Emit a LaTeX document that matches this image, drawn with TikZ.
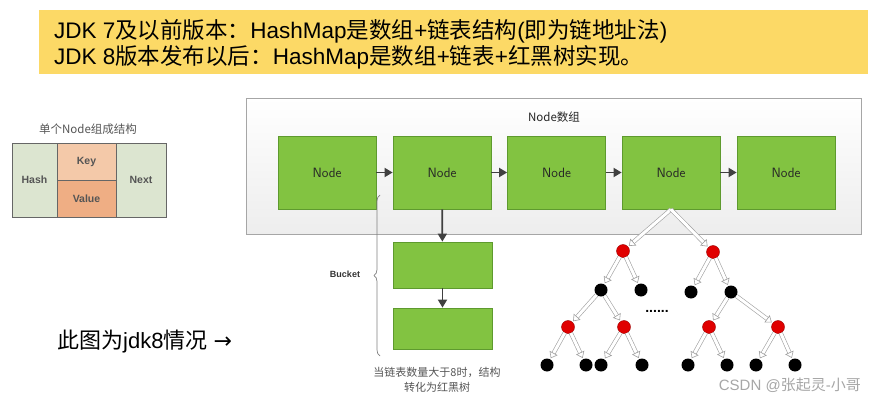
\documentclass[tikz,border=0pt]{standalone}
\usepackage{fontspec}
\setmainfont{Liberation Sans}
\newfontfamily\cjk{Noto Sans CJK SC}
\newfontfamily\symf{DejaVu Sans}
\usetikzlibrary{arrows.meta,decorations.pathreplacing}
\definecolor{bannerY}{HTML}{FCD966}
\definecolor{nodeG}{HTML}{82C341}
\definecolor{nodeGb}{HTML}{5E9A2E}
\definecolor{cellG}{HTML}{DCE5D0}
\definecolor{cellK}{HTML}{F4C9A9}
\definecolor{cellV}{HTML}{EFAE84}
\definecolor{txtG}{HTML}{555555}
\definecolor{redN}{HTML}{E00000}
\tikzset{
  gnode/.style={draw=nodeGb, fill=nodeG, line width=0.8pt, minimum width=98pt, minimum height=73pt, inner sep=0pt, font=\fontsize{13.5}{14}\selectfont\sffamily, text=black!85},
  bnode/.style={draw=nodeGb, fill=nodeG, line width=0.8pt, minimum width=99pt, inner sep=0pt},
  darr/.style={draw=black!75, line width=1.8pt, -{Triangle[length=8pt,width=9pt]}},
  rnode/.style={circle, fill=redN, draw=red!60!black, line width=0.4pt, minimum size=13pt, inner sep=0pt},
  knode/.style={circle, fill=black, minimum size=13pt, inner sep=0pt},
  tarr/.style={draw=gray!75, line width=0.6pt, double=white, double distance=3pt, -{Triangle[open,length=6pt,width=9pt]}, shorten >=1pt},
  cell/.style={draw=gray!80!black, line width=0.8pt, inner sep=0pt, font=\fontsize{10.5}{12}\selectfont\bfseries, text=txtG},
}
\begin{document}
\begin{tikzpicture}[x=1pt,y=-1pt]
\useasboundingbox (0,0) rectangle (876,404);
% banner
\fill[bannerY] (39,10) rectangle (868,74);
\node[anchor=west, inner sep=0pt, font=\fontsize{22.5}{24}\selectfont] (l1) at (54,31)
  {JDK 7{\cjk 及以前版本：}HashMap{\cjk 是数组}+{\cjk 链表结构}({\cjk 即为链地址法})};
\node[anchor=west, inner sep=0pt, font=\fontsize{22.5}{24}\selectfont] (l2) at (54,57)
  {JDK 8{\cjk 版本发布以后：}HashMap{\cjk 是数组}+{\cjk 链表}+{\cjk 红黑树实现。}};
% single node structure
\node[font=\fontsize{11.5}{12}\selectfont\cjk, text=txtG] (st) at (88,129) {单个Node组成结构};
\node[cell, fill=cellG, minimum width=45pt, minimum height=74pt] (hash) at (34.5,180) {Hash};
\node[cell, fill=cellK, minimum width=59pt, minimum height=37pt] (key) at (86.5,161.5) {Key};
\node[cell, fill=cellV, minimum width=59pt, minimum height=37pt] (val) at (86.5,198.5) {Value};
\node[cell, fill=cellG, minimum width=50pt, minimum height=74pt] (next) at (141,180) {Next};
% main box
\node[draw=gray!70, line width=0.8pt, top color=white, bottom color=gray!14, minimum width=615pt, minimum height=136pt, inner sep=0pt] (box) at (553.5,166) {};
\node[font=\fontsize{11.5}{12}\selectfont\cjk, text=black!85] (title) at (554,117) {Node数组};
\node[gnode] (n1) at (327,172.5) {Node};
\node[gnode] (n2) at (442,172.5) {Node};
\node[gnode] (n3) at (556.5,172.5) {Node};
\node[gnode] (n4) at (671,172.5) {Node};
\node[gnode] (n5) at (786,172.5) {Node};
\draw[darr] (n1) -- (n2);
\draw[darr] (n2) -- (n3);
\draw[darr] (n3) -- (n4);
\draw[darr] (n4) -- (n5);
% bucket
\node[bnode, minimum height=46pt] (k1) at (442.5,265) {};
\node[bnode, minimum height=41pt] (k2) at (442.5,328.5) {};
\draw[darr] (n2) -- (k1);
\draw[darr] (k1) -- (k2);
\coordinate (bb) at (380,356);
\coordinate (bt) at (380,195);
\draw[gray, line width=0.7pt, decorate, decoration={brace, amplitude=6pt}] (bb) -- (bt);
\node[font=\fontsize{9}{10}\selectfont\bfseries, text=black!80] (bk) at (345,274) {Bucket};
\node[font=\fontsize{11}{15}\selectfont\cjk, text=txtG, align=center] (cap) at (437,380) {当链表数量大于8时，结构\\转化为红黑树};
% tree
\node[rnode] (r1) at (623,251) {};
\node[rnode] (r2) at (713,252) {};
\node[knode] (b1) at (601,290) {};
\node[knode] (b2) at (641,290) {};
\node[knode] (b3) at (691,292) {};
\node[knode] (b4) at (731,292) {};
\node[rnode] (r3) at (568,327) {};
\node[rnode] (r4) at (624,327) {};
\node[rnode] (r5) at (709,327) {};
\node[rnode] (r6) at (778,327) {};
\foreach \n/\x in {e1/547,e2/586,e3/601,e4/642,e5/688,e6/727,e7/756,e8/795}
  \node[knode] (\n) at (\x,365) {};
\draw[tarr] (n4.south) -- (r1);
\draw[tarr] (n4.south) -- (r2);
\draw[tarr] (r1) -- (b1); \draw[tarr] (r1) -- (b2);
\draw[tarr] (r2) -- (b3); \draw[tarr] (r2) -- (b4);
\draw[tarr] (b1) -- (r3); \draw[tarr] (b1) -- (r4);
\draw[tarr] (b4) -- (r5); \draw[tarr] (b4) -- (r6);
\draw[tarr] (r3) -- (e1); \draw[tarr] (r3) -- (e2);
\draw[tarr] (r4) -- (e3); \draw[tarr] (r4) -- (e4);
\draw[tarr] (r5) -- (e5); \draw[tarr] (r5) -- (e6);
\draw[tarr] (r6) -- (e7); \draw[tarr] (r6) -- (e8);
\node[font=\fontsize{14}{14}\selectfont\bfseries] (dots) at (657,311) {......};
% bottom-left text
\node[anchor=west, inner sep=0pt, font=\fontsize{22}{24}\selectfont] (jdk) at (57,342)
  {{\cjk 此图为}jdk8{\cjk 情况} {\symf →}};
% watermark
\node[anchor=east, inner sep=0pt, font=\fontsize{15}{16}\selectfont, text=gray!70] (wm) at (861,385)
  {CSDN @{\cjk 张起灵}-{\cjk 小哥}};
\end{tikzpicture}
\end{document}
